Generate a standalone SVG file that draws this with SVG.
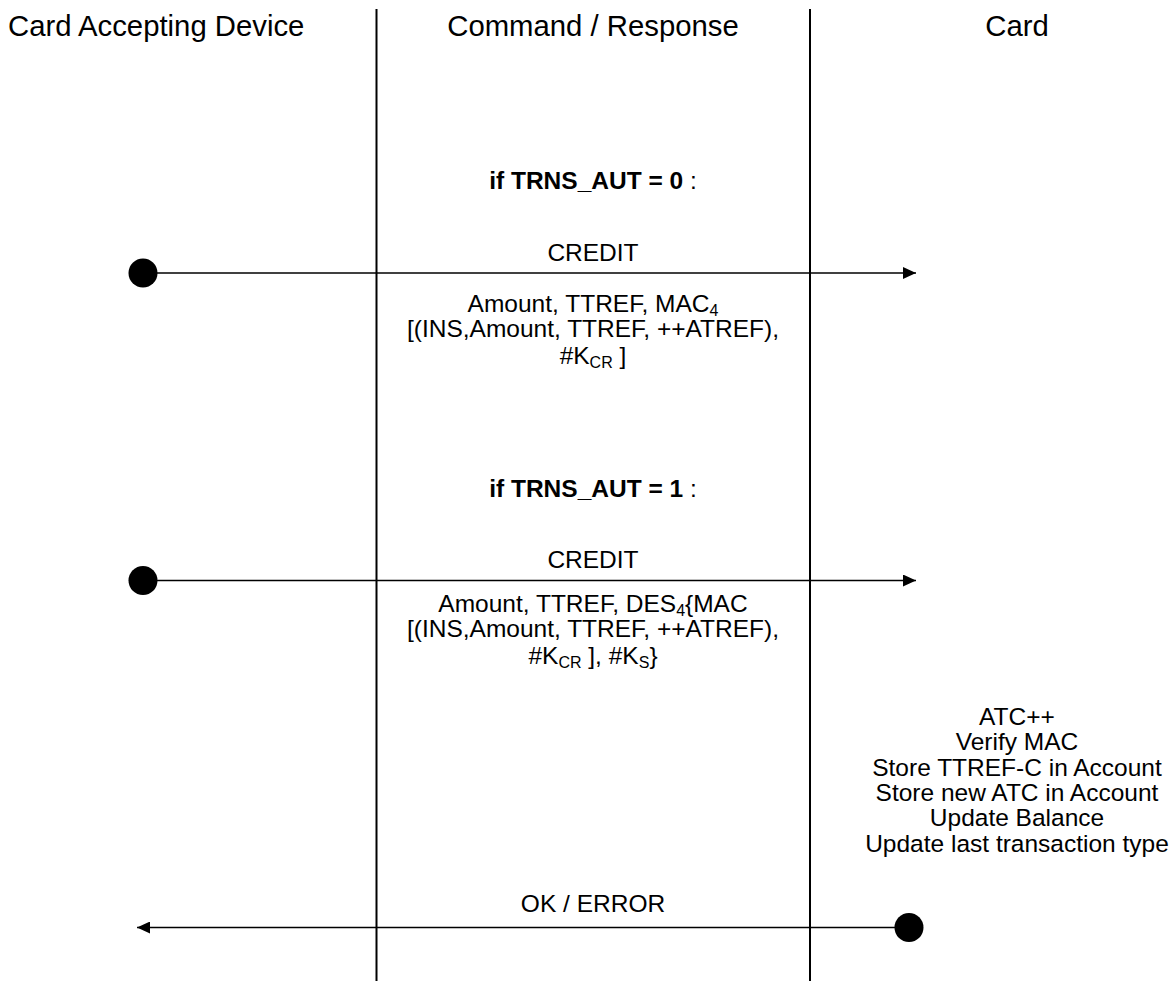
<svg xmlns="http://www.w3.org/2000/svg" width="1174" height="981" viewBox="0 0 1174 981">
<style>
text{font-family:"Liberation Sans",Arial,sans-serif;fill:#000}
.h{font-size:29.3px}
.t{font-size:24.5px;text-anchor:middle}
.b{font-weight:bold}
.s{font-size:16px}
.life{stroke:#000;stroke-width:2}
.msg{stroke:#000;stroke-width:1.6;fill:none}
</style>
<defs>
<marker id="ah" viewBox="0 0 13 12" refX="13" refY="6" markerWidth="13" markerHeight="12" markerUnits="userSpaceOnUse" orient="auto">
<path d="M0,0 L13,6 L0,12 z" fill="#000"/>
</marker>
</defs>
<rect width="1174" height="981" fill="#fff"/>
<g id="headers">
<text class="h" x="8" y="36">Card Accepting Device</text>
<text class="h" x="593" y="36" text-anchor="middle">Command / Response</text>
<text class="h" x="1017" y="36" text-anchor="middle">Card</text>
</g>
<g id="lifelines">
<line class="life" x1="376.5" y1="9" x2="376.5" y2="981"/>
<line class="life" x1="810" y1="9" x2="810" y2="981"/>
</g>
<g id="connectors">
<line class="msg" x1="143" y1="273" x2="916" y2="273" marker-end="url(#ah)"/>
<line class="msg" x1="143" y1="580.5" x2="916" y2="580.5" marker-end="url(#ah)"/>
<line class="msg" x1="909" y1="927.5" x2="137" y2="927.5" marker-end="url(#ah)"/>
<circle cx="143" cy="273" r="14.5" fill="#000"/>
<circle cx="143" cy="580.5" r="14.5" fill="#000"/>
<circle cx="909" cy="927.5" r="14.5" fill="#000"/>
</g>
<g id="cond0">
<text class="t" x="593" y="189"><tspan class="b">if TRNS_AUT = 0</tspan> :</text>
</g>
<g id="credit0">
<text class="t" x="593" y="261">CREDIT</text>
<text class="t" x="593" y="312">Amount, TTREF, MAC<tspan class="s" dy="4">4</tspan></text>
<text class="t" x="593" y="337">[(INS,Amount, TTREF, ++ATREF),</text>
<text class="t" x="593" y="364">#K<tspan class="s" dy="4">CR</tspan><tspan dy="-4"> ]</tspan></text>
</g>
<g id="cond1">
<text class="t" x="593" y="497"><tspan class="b">if TRNS_AUT = 1</tspan> :</text>
</g>
<g id="credit1">
<text class="t" x="593" y="568">CREDIT</text>
<text class="t" x="593" y="612">Amount, TTREF, DES<tspan class="s" dy="4">4</tspan><tspan dy="-4">{MAC</tspan></text>
<text class="t" x="593" y="637">[(INS,Amount, TTREF, ++ATREF),</text>
<text class="t" x="593" y="664">#K<tspan class="s" dy="4">CR</tspan><tspan dy="-4"> ], #K</tspan><tspan class="s" dy="4">S</tspan><tspan dy="-4">}</tspan></text>
</g>
<g id="card-actions">
<text class="t" x="1017" y="725">ATC++</text>
<text class="t" x="1017" y="750">Verify MAC</text>
<text class="t" x="1017" y="776">Store TTREF-C in Account</text>
<text class="t" x="1017" y="801">Store new ATC in Account</text>
<text class="t" x="1017" y="826">Update Balance</text>
<text class="t" x="1017" y="852">Update last transaction type</text>
</g>
<g id="response">
<text class="t" x="593" y="912">OK / ERROR</text>
</g>
</svg>
